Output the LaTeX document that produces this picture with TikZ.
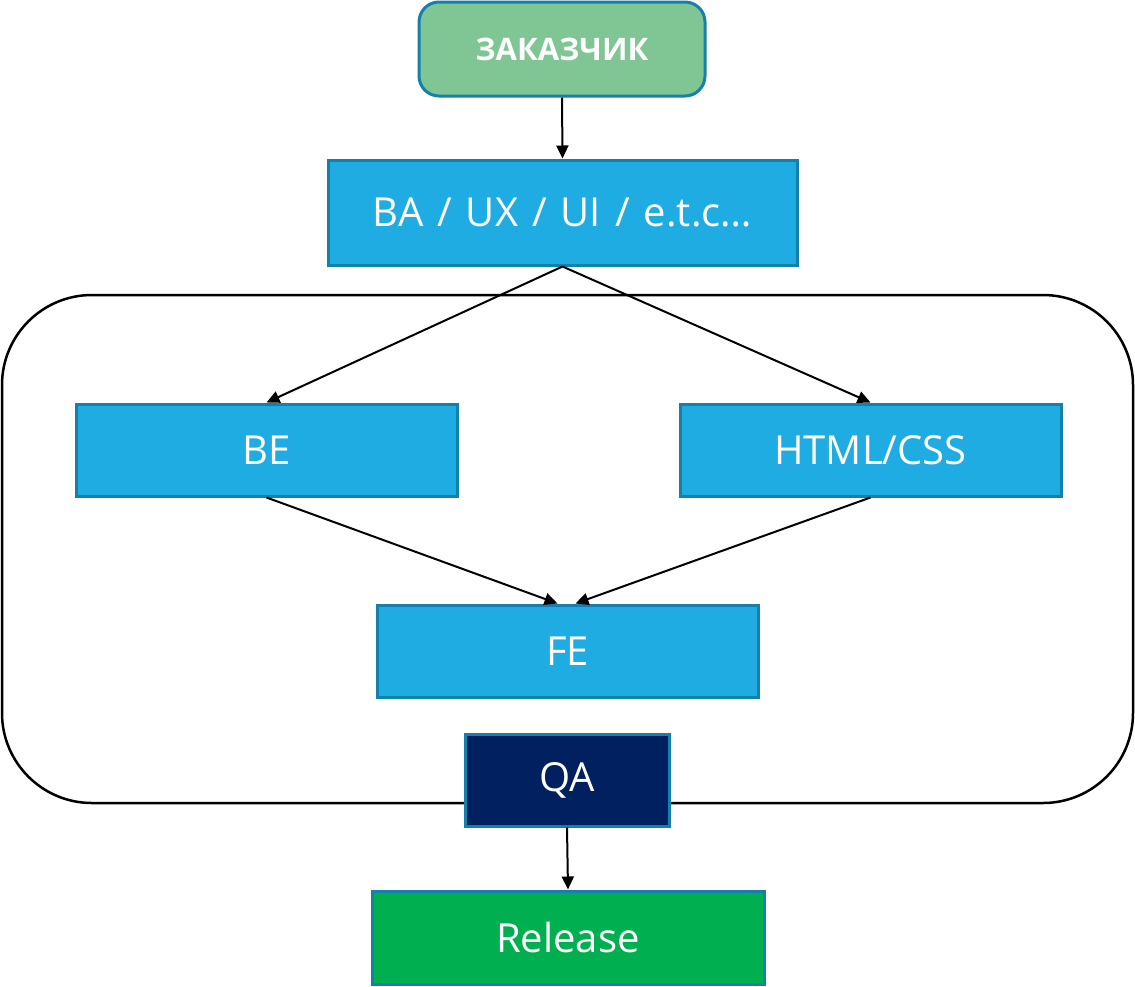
\documentclass[tikz,border=0pt]{standalone}
\usepackage{fontspec}
\setmainfont{Open Sans}
\usetikzlibrary{arrows.meta}
\definecolor{topgreen}{HTML}{80C594}
\definecolor{boxblue}{HTML}{1EACE3}
\definecolor{edgeblue}{HTML}{1580AC}
\definecolor{qanavy}{HTML}{002060}
\definecolor{relgreen}{HTML}{00B050}
\tikzset{
  stagebox/.style={draw=edgeblue, line width=3pt, fill=boxblue, text=white, inner sep=0pt,
    font=\fontsize{40}{46}\selectfont},
  conn/.style={line width=2pt, -{Triangle[length=13pt,width=12pt]}},
}
\begin{document}
\begin{tikzpicture}[x=1pt,y=-1pt]
\useasboundingbox (0,0) rectangle (1135,986);
\node[draw=black, line width=2.5pt, rounded corners=90pt, minimum width=1131pt, minimum height=508pt, inner sep=0pt] (group) at (567.5,549) {};
\node[draw=edgeblue, line width=3pt, fill=topgreen, rounded corners=20pt, text=white, inner sep=0pt,
  minimum width=286pt, minimum height=94pt, font=\bfseries\fontsize{31}{36}\selectfont] (client) at (562,49) {ЗАКАЗЧИК};
\node[stagebox, minimum width=469pt, minimum height=105pt] (ba) at (562.5,212.5) {\spaceskip=14pt\relax BA / UX / UI / e.t.c\dots};
\node[stagebox, minimum width=381pt, minimum height=92pt] (be) at (266.5,450) {BE};
\node[stagebox, minimum width=381pt, minimum height=92pt] (html) at (870.5,450) {HTML/CSS};
\node[stagebox, minimum width=381pt, minimum height=92pt] (fe) at (567.5,651) {FE};
\node[stagebox, fill=qanavy, minimum width=204pt, minimum height=92pt] (qa) at (567,780) {QA};
\node[stagebox, fill=relgreen, minimum width=392pt, minimum height=93pt] (rel) at (568,937.5) {Release};
\draw[conn] (client.south) -- (ba.north);
\draw[conn] (ba.south) -- (be.north);
\draw[conn] (ba.south) -- (html.north);
\draw[conn] (be.south) -- ([xshift=-10pt]fe.north);
\draw[conn] (html.south) -- ([xshift=8pt]fe.north);
\draw[conn] (qa.south) -- (rel.north);
\end{tikzpicture}
\end{document}
